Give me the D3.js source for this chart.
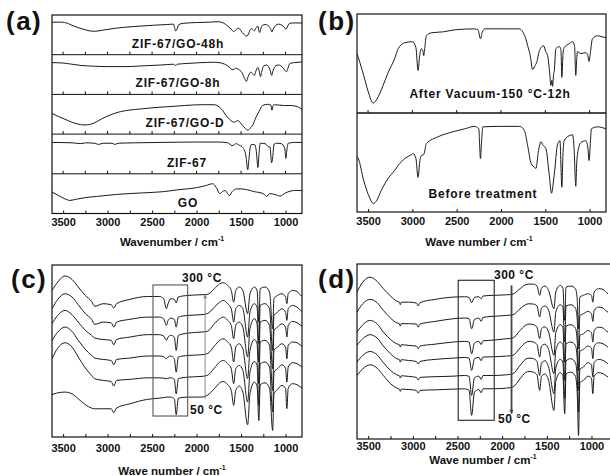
<!DOCTYPE html>
<html>
<head>
<meta charset="utf-8">
<script src="https://cdnjs.cloudflare.com/ajax/libs/d3/7.8.5/d3.min.js"></script>
<style>
body { margin: 0; background: #fff; }
text { font-family: Arial, "Liberation Sans", sans-serif; font-weight: bold; fill: #111; }
</style>
</head>
<body>
<div id="chart"></div>
<script>
// ---- data (wavenumber cm-1, transmittance a.u.) ----
var waveDomain = [3625, 815];
var majorTicks = [3500, 3000, 2500, 2000, 1500, 1000];

// panel (a), one row each, values 0-100 inside the row
var zifGo48h = [[3625,82],[3520,82],[3450,79],[3400,74],[3300,66],[3200,60],[3145,59],[3050,62],[2900,67],[2700,71],[2500,74],[2330,76],[2260,77],[2235,60],[2225,62],[2200,76],[2150,79],[2000,81],[1850,82],[1760,83],[1700,80],[1650,72],[1600,62],[1583,58],[1560,62],[1530,67],[1500,60],[1470,52],[1445,47],[1420,50],[1400,62],[1385,66],[1360,62],[1350,60],[1335,66],[1310,72],[1300,60],[1290,56],[1280,64],[1260,74],[1230,76],[1200,74],[1170,66],[1153,57],[1140,64],[1110,74],[1080,77],[1040,74],[1010,68],[995,64],[980,70],[960,78],[920,80],[860,80],[815,80]];
var zifGo8h = [[3625,80],[3500,79],[3400,76],[3300,73],[3150,71],[3000,70],[2800,70],[2600,72],[2400,74],[2260,76],[2235,73],[2215,76],[2100,78],[1950,80],[1800,81],[1720,79],[1650,72],[1590,62],[1560,66],[1530,63],[1490,55],[1460,40],[1440,33],[1420,45],[1390,56],[1370,52],[1350,48],[1335,58],[1310,68],[1295,58],[1282,45],[1270,55],[1245,72],[1210,74],[1175,62],[1155,48],[1140,60],[1110,72],[1080,74],[1040,70],[1005,60],[990,57],[975,65],[950,78],[900,80],[850,81],[815,82]];
var zifGoD = [[3625,52],[3550,44],[3444,34],[3350,26],[3257,23],[3150,28],[3070,38],[2950,50],[2883,55],[2800,59],[2697,62],[2600,64],[2510,66],[2400,68],[2323,69],[2136,72],[1949,74],[1800,74],[1725,64],[1650,42],[1575,30],[1538,34],[1482,22],[1426,10],[1400,14],[1370,22],[1333,42],[1295,58],[1258,72],[1202,75],[1165,73],[1153,60],[1140,72],[1126,74],[1015,72],[940,72],[865,69],[815,62]];
var zif67 = [[3625,79],[3400,78],[3300,76],[3250,78],[3150,77],[3100,74],[3050,77],[2950,77],[2920,74],[2880,77],[2700,78],[2400,79],[2000,80],[1750,80],[1650,78],[1600,71],[1580,72],[1560,76],[1520,72],[1480,66],[1445,45],[1425,10],[1410,40],[1390,73],[1350,74],[1330,60],[1310,16],[1298,50],[1285,77],[1230,76],[1190,68],[1175,68],[1157,28],[1145,40],[1130,74],[1100,77],[1050,76],[1010,65],[996,39],[985,60],[970,77],[900,79],[815,79]];
var goOnly = [[3625,54],[3550,45],[3480,37],[3423,33],[3350,36],[3250,40],[3123,43],[2900,48],[2600,52],[2374,55],[2200,60],[2000,65],[1900,70],[1819,75],[1780,66],[1737,50],[1710,55],[1681,58],[1650,50],[1632,45],[1600,55],[1549,62],[1500,62],[1437,60],[1350,55],[1250,50],[1212,43],[1180,50],[1120,48],[1062,44],[1000,52],[950,56],[900,58],[837,58],[815,57]];
var rowNames = ["ZIF-67/GO-48h", "ZIF-67/GO-8h", "ZIF-67/GO-D", "ZIF-67", "GO"];

// panel (b)
var afterVacuum = [[3625,60],[3610,56],[3550,38],[3500,22],[3441,10],[3400,14],[3330,28],[3273,41],[3200,55],[3160,65],[3085,71],[3000,72],[2960,66],[2936,43],[2920,56],[2898,65],[2880,62],[2872,58],[2860,66],[2842,78],[2786,81],[2650,82],[2523,84],[2300,85],[2260,84],[2231,75],[2210,82],[2179,85],[1900,85],[1793,85],[1755,82],[1720,75],[1699,68],[1670,58],[1643,44],[1615,48],[1594,52],[1570,62],[1549,66],[1519,68],[1495,62],[1474,58],[1450,40],[1437,28],[1425,33],[1418,27],[1405,40],[1399,42],[1381,65],[1340,67],[1324,64],[1313,36],[1300,60],[1287,66],[1231,70],[1193,72],[1170,68],[1156,38],[1145,55],[1137,62],[1100,60],[1043,61],[1020,58],[1006,52],[990,62],[968,75],[912,78],[860,77],[815,76]];
var beforeTreatment = [[3625,56],[3610,54],[3550,32],[3480,14],[3441,8.5],[3400,12],[3350,22],[3273,34],[3200,42],[3160,47],[3085,54],[3010,58],[2992,59],[2960,54],[2936,35],[2915,52],[2898,57],[2872,58],[2842,69],[2710,76],[2523,81.5],[2410,84],[2300,86.5],[2250,84],[2242,70],[2232,54],[2220,70],[2205,86],[2000,86.5],[1793,86.5],[1737,82.5],[1699,67],[1660,49],[1620,45],[1605,44],[1580,60],[1549,71],[1530,68],[1493,64],[1455,37],[1430,19],[1400,37],[1360,69],[1335,72],[1313,25],[1300,60],[1287,72],[1231,77],[1193,78],[1175,64],[1156,26],[1145,50],[1137,58],[1100,70],[1043,72],[1020,65],[1006,52],[990,72],[980,84],[912,86],[815,84]];

// panel (c): in-situ spectra, 300 C (top) to 50 C (bottom)
var waveC = [3625,3560,3480,3400,3330,3250,3180,3145,3050,2960,2930,2900,2750,2550,2420,2370,2340,2320,2290,2250,2229,2205,2100,1950,1880,1800,1740,1700,1650,1610,1583,1560,1520,1480,1426,1400,1350,1320,1300,1285,1230,1180,1145,1130,1090,1040,1000,985,970,920,870,830,815];
var c300 = [85.2,90.1,93.6,91.6,87.2,82.3,78.8,76,77.5,76.9,75,77.5,80,81.7,81.7,80.4,74.6,77.5,80.4,80,78,81.4,82.3,82.7,82.9,86.2,89.1,89.7,88.1,85.2,78.4,85.2,87.2,85.2,71.7,83.3,87.2,85.2,66.8,86.2,87.2,84.3,62.9,80.4,82.3,83.3,81.4,77.5,83.3,85.2,84.6,82.3,81.9];
var c250 = [74.6,80,83.3,81.4,76.9,71.7,68.4,65.5,66.8,66.4,63.9,66.8,68.4,69.7,69.7,68.8,64.9,67.8,69.1,68.4,63.9,69.7,70.7,71.1,71.7,75.5,78.4,79.4,77.5,74.6,66.8,74.6,76.5,74.6,58.1,72.6,77.5,75.5,54.2,76.5,77.5,74.6,50.3,70.7,72.6,74.6,72.6,67.8,74.6,76.5,75.5,73.6,73];
var c200 = [65.8,70.7,73.6,71.1,66.8,62,59.1,57.5,56.7,56.2,53.6,56.7,58.1,59.5,59.5,58.7,56.2,58.1,59.1,58.1,50.3,59.1,60.4,61,61.4,65.8,68.8,69.7,67.8,64.9,57.1,64.9,66.8,63.9,46.5,62.9,68.8,65.8,43.6,66.8,67.8,64.9,39.7,62,63.9,65.8,63.9,58.1,64.9,67.2,66.4,64.9,64.5];
var c150 = [56.2,61,63.9,61.4,56.2,51,47.4,45.9,45.1,44.5,42,45.1,45.9,47.1,47.1,46.7,45.5,46.5,47.1,45.5,37.7,46.5,47.4,47.8,48.4,52.9,56.2,57.1,55.2,52.3,43.6,52.3,54.2,51.3,33.9,50.3,56.7,54.2,31,55.2,56.2,53.3,27.1,50.3,52.3,54.2,52.3,45.5,53.3,55.2,54.8,53.3,52.9];
var c100 = [45.5,51.7,54.8,52.3,46.5,40.1,35.8,33.9,32.9,32.3,29.6,32.9,33.5,34.4,34.4,34.2,33.9,34.2,34.4,33.5,25.1,33.9,34.8,35.2,35.8,40.1,43.6,44.5,42.6,39.7,31,39.7,41.6,38.7,20.3,37.7,43.9,41.6,18.4,42.6,43.6,40.7,14.5,37.7,39.7,42,40.1,31.9,40.7,43.2,42.6,41.2,40.7];
var c50 = [24.6,25.7,26.1,25.1,22.2,18.8,16.8,16.4,16.4,16.4,14.1,16.8,19.3,21.9,22.6,22.9,23.2,23.2,23.2,22.2,13,22.6,23.2,23.2,24.2,28.1,31.5,32.3,30.4,27.1,18.4,27.1,29.6,26.1,7.1,25.1,31.9,29.6,9.6,30.4,31.5,28.4,3.8,25.1,27.7,30,28.1,16.5,28.4,31,30.4,29,28.4];

// panel (d)
var waveD = [3625,3560,3480,3400,3330,3250,3180,3150,3140,3130,3050,2960,2940,2920,2750,2550,2420,2370,2342,2310,2260,2235,2215,2100,1950,1880,1800,1740,1700,1650,1610,1580,1560,1520,1480,1420,1400,1350,1320,1300,1285,1230,1180,1160,1145,1130,1090,1040,1000,985,970,920,870,830,815];
var d300 = [84,89.7,92.5,90.1,85.9,81.7,78.8,78.2,76.7,78.2,78.2,77.7,76,77.9,79.8,81.1,81.3,80.9,77.9,80.9,81.3,80.1,81.7,82.1,82.4,82.8,85.9,88.1,88.5,88.5,87.4,82.1,86.2,87.4,84.9,74.4,84,87.8,86.2,67.8,86.8,87.4,85.9,80.1,63,81.1,82.1,83,82.1,78.2,84,85.9,85.5,83.6,83];
var d250 = [72.5,77.3,79.8,77.9,73.5,69.1,66.4,65.9,64.5,65.9,65.9,65.7,63.9,65.7,67.2,68.7,69.1,68.7,63,68.3,69.1,67.2,69.5,70.1,70.6,71,74.4,76.7,77.3,77.1,76,69.7,74.8,76,73.5,61.1,72.5,76.7,75.2,55.4,76,76.7,74.8,68.7,51.6,70.6,71.6,72.9,71.6,67.2,73.5,75.4,74.8,72.9,72.5];
var d200 = [61.1,65.3,67.8,65.8,61.1,56.9,54.4,53.9,52.5,53.9,53.5,53.1,51.6,53.1,54.2,55.4,55.8,55.4,48.7,54.8,55.8,53.9,56.1,56.5,57.3,57.7,62,64.9,65.7,65.3,63.9,57.3,63,64.1,61.1,47.8,60.7,65.3,63.8,43.9,64.5,65.3,63.4,56.3,39.2,59.2,60.1,62,60.7,55.4,62,63.9,63.4,61.5,61.1];
var d150 = [53.5,57.3,59.6,57.7,53.1,48.7,45.9,45.3,43.9,45.3,44.9,44.3,42.8,44.3,45.5,46.2,46.6,46.2,39.2,45.9,46.6,44.7,46.8,47,47.4,47.8,52,55,55.8,55.4,54,46.8,53.1,54.2,51.2,37.3,50.6,55.4,53.9,33.5,54.4,55.4,53.5,45.9,27.8,50,51.2,53.1,52,45.9,53.1,55,54.4,53.1,52.5];
var d100 = [43.9,47.8,50,48.1,43.6,39.2,36.7,36.1,34.8,36.1,35.8,35.2,33.7,35.2,35.6,35.9,36.3,35.8,24.9,35,35.9,34,36.3,36.3,36.7,37.3,42,45.5,46.2,45.9,44.3,36.3,43.4,44.7,41.1,25.9,40.5,45.5,43.9,23,44.7,45.9,43.6,35.4,15.4,39.8,41.1,43.6,42.4,35.4,43.6,45.5,44.9,43.6,43];
var d50 = [36.3,40.1,42.4,40.5,36.3,31.6,29.1,28.5,27.2,28.5,28.3,27.8,26.2,27.8,28.1,28.5,28.7,27.8,13.5,26.8,28.3,26.4,28.7,28.7,29.1,29.7,34.4,37.9,38.6,38.2,36.7,27.8,35.8,37.1,33.5,16.3,32.9,37.9,36.3,14.4,37.1,38.2,35.9,26.8,2,32.1,33.5,35.9,34.8,25.9,35.9,37.9,37.3,35.9,35.4];

// ---- drawing ----
var svg = d3.select("#chart").append("svg")
    .attr("width", 610)
    .attr("height", 476);

var clipN = 0;
function clipFor(x0, y0, w, h) {
    var id = "clip" + (clipN++);
    svg.append("clipPath").attr("id", id)
        .append("rect").attr("x", x0).attr("y", y0).attr("width", w).attr("height", h);
    return "url(#" + id + ")";
}

function spectrum(g, data, x, y) {
    var line = d3.line()
        .x(function(d) { return x(d[0]); })
        .y(function(d) { return y(d[1]); })
        .curve(d3.curveMonotoneX);
    g.append("path")
        .datum(data)
        .attr("d", line)
        .attr("fill", "none")
        .attr("stroke", "#1a1a1a")
        .attr("stroke-width", 1)
        .attr("stroke-linejoin", "round");
}

function bottomAxis(x, yPos, step, pad) {
    var vals = d3.range(1000, 3501, step);
    var ax = d3.axisBottom(x)
        .tickValues(vals)
        .tickSize(-3)
        .tickPadding(pad)
        .tickFormat(function(d) { return majorTicks.indexOf(d) >= 0 ? d : ""; });
    var g = svg.append("g")
        .attr("transform", "translate(0," + yPos + ")")
        .call(ax);
    g.select(".domain").remove();
    g.selectAll("line").attr("stroke", "#111");
    g.selectAll("text")
        .attr("font-size", 11)
        .attr("font-weight", "bold")
        .attr("fill", "#111")
        .attr("font-family", "Arial, 'Liberation Sans', sans-serif");
}

function innerTicks(x, yPos, step) {
    svg.append("g").selectAll("line")
        .data(d3.range(1000, 3501, step))
        .enter().append("line")
        .attr("x1", function(d) { return x(d); })
        .attr("x2", function(d) { return x(d); })
        .attr("y1", yPos)
        .attr("y2", yPos - 3)
        .attr("stroke", "#111");
}

function panelLabel(t, px, py) {
    svg.append("text").text(t)
        .attr("x", px).attr("y", py)
        .attr("font-size", 26)
        .attr("letter-spacing", 1.5);
}

function axisTitle(t, cx, by) {
    var tx = svg.append("text")
        .attr("x", cx).attr("y", by)
        .attr("text-anchor", "middle")
        .attr("font-size", 11.5);
    tx.append("tspan").text(t);
    tx.append("tspan").text("-1").attr("font-size", 7).attr("dy", -5);
}

function frame(x0, y0, x1, y1, sw) {
    svg.append("rect")
        .attr("x", x0).attr("y", y0)
        .attr("width", x1 - x0).attr("height", y1 - y0)
        .attr("fill", "none").attr("stroke", "#111").attr("stroke-width", sw || 1.2);
}

// (a)
(function() {
    var left = 52, right = 302, top = 15, bottom = 213.5;
    var rowH = (bottom - top) / 5;
    var x = d3.scaleLinear().domain(waveDomain).range([left, right]);
    var rows = [zifGo48h, zifGo8h, zifGoD, zif67, goOnly];
    var labelX = [178, 178, 185, 187, 188];
    var cp = clipFor(left, top, right - left, bottom - top);
    rows.forEach(function(data, i) {
        var r0 = top + i * rowH;
        var y = d3.scaleLinear().domain([0, 100]).range([r0 + rowH, r0]);
        var g = svg.append("g").attr("clip-path", cp);
        spectrum(g, data, x, y);
        svg.append("text").text(rowNames[i])
            .attr("x", labelX[i]).attr("y", r0 + rowH - 7)
            .attr("text-anchor", "middle")
            .attr("font-size", 12)
            .attr("letter-spacing", 0.8);
        if (i > 0) {
            svg.append("line").attr("x1", left).attr("x2", right)
                .attr("y1", r0).attr("y2", r0).attr("stroke", "#111");
            innerTicks(x, r0, 250);
        }
    });
    frame(left, top, right, bottom);
    bottomAxis(x, bottom, 250, 5);
    panelLabel("(a)", 6, 30);
    axisTitle("Wavenumber / cm", 172, 246);
})();

// (b)
(function() {
    var left = 357, right = 606, top = 14, mid = 113, bottom = 212;
    var x = d3.scaleLinear().domain(waveDomain).range([left, right]);
    var cp = clipFor(left, top, right - left, bottom - top);
    var yTop = d3.scaleLinear().domain([0, 100]).range([mid, top]);
    var yBot = d3.scaleLinear().domain([0, 100]).range([bottom, mid]);
    spectrum(svg.append("g").attr("clip-path", cp), afterVacuum, x, yTop);
    spectrum(svg.append("g").attr("clip-path", cp), beforeTreatment, x, yBot);
    svg.append("line").attr("x1", left).attr("x2", right)
        .attr("y1", mid).attr("y2", mid).attr("stroke", "#111").attr("stroke-width", 1.6);
    innerTicks(x, mid, 500);
    svg.append("text").text("After Vacuum-150 \u00B0C-12h")
        .attr("x", 490).attr("y", 98).attr("text-anchor", "middle")
        .attr("font-size", 12).attr("letter-spacing", 0.8);
    svg.append("text").text("Before treatment")
        .attr("x", 483).attr("y", 198).attr("text-anchor", "middle")
        .attr("font-size", 12).attr("letter-spacing", 0.8);
    frame(left, top, right, bottom);
    bottomAxis(x, bottom, 500, 5);
    panelLabel("(b)", 318, 30);
    axisTitle("Wave number / cm", 479, 246);
})();

// stacked in-situ panels
function stackPanel(opt) {
    var x = d3.scaleLinear().domain(waveDomain).range([opt.left, opt.right]);
    var y = d3.scaleLinear().domain([0, 100]).range([opt.bottom, opt.top]);
    var cp = clipFor(opt.left, opt.top, opt.right - opt.left, opt.bottom - opt.top);
    var g = svg.append("g").attr("clip-path", cp);
    opt.series.forEach(function(vals) {
        spectrum(g, opt.wave.map(function(w, i) { return [w, vals[i]]; }), x, y);
    });
    // highlight box
    svg.append("rect")
        .attr("x", x(opt.box[0])).attr("y", y(opt.box[3]))
        .attr("width", x(opt.box[1]) - x(opt.box[0]))
        .attr("height", y(opt.box[2]) - y(opt.box[3]))
        .attr("fill", "none").attr("stroke", opt.boxColor).attr("stroke-width", 1.1);
    // temperature arrow
    var ax = x(opt.arrow[0]), ay0 = y(opt.arrow[1]), ay1 = y(opt.arrow[2]);
    svg.append("line").attr("x1", ax).attr("x2", ax).attr("y1", ay0).attr("y2", ay1)
        .attr("stroke", opt.arrowColor).attr("stroke-width", opt.arrowWidth);
    var dir = ay1 < ay0 ? 1 : -1;
    svg.append("path")
        .attr("d", "M" + (ax - 2) + "," + (ay1 + dir * 4) + "L" + ax + "," + ay1 + "L" + (ax + 2) + "," + (ay1 + dir * 4) + "Z")
        .attr("fill", opt.arrowColor);
    svg.append("text").text("300 \u00B0C").attr("x", opt.hot[0]).attr("y", opt.hot[1])
        .attr("font-size", 12).attr("letter-spacing", 0.5);
    svg.append("text").text("50 \u00B0C").attr("x", opt.cold[0]).attr("y", opt.cold[1])
        .attr("font-size", 12).attr("letter-spacing", 0.5);
    frame(opt.left, opt.top, opt.frameRight || opt.right, opt.bottom);
    bottomAxis(x, opt.bottom, 250, opt.pad);
}

stackPanel({
    left: 52, right: 302, top: 265, bottom: 437,
    wave: waveC, series: [c300, c250, c200, c150, c100, c50],
    box: [2490, 2100, 12.2, 88.4], boxColor: "#555",
    arrow: [1904, 22, 83], arrowColor: "#888", arrowWidth: 1,
    hot: [182, 282], cold: [190, 414], pad: 7
});
panelLabel("(c)", 11, 288);
axisTitle("Wave number / cm", 172, 475);

stackPanel({
    left: 357, right: 608, frameRight: 613, top: 264, bottom: 439,
    wave: waveD, series: [d300, d250, d200, d150, d100, d50],
    box: [2492, 2089, 10.7, 90.7], boxColor: "#222",
    arrow: [1895, 87.8, 14.5], arrowColor: "#444", arrowWidth: 1.8,
    hot: [494, 279], cold: [498, 423], pad: 3
});
panelLabel("(d)", 318, 288);
axisTitle("Wave number / cm", 483, 464);
</script>
</body>
</html>
